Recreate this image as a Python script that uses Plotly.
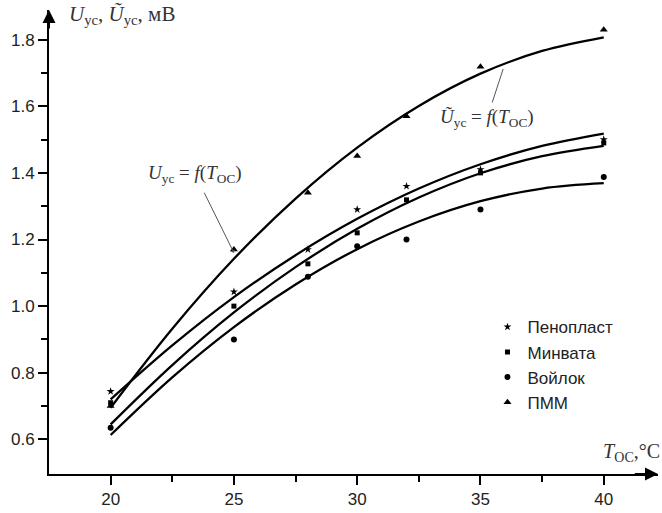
import plotly.graph_objects as go

# ---- data ----
T = [20, 25, 28, 30, 32, 35, 40]
penoplast = [0.744, 1.043, 1.17, 1.29, 1.36, 1.41, 1.50]
minvata = [0.71, 1.00, 1.127, 1.22, 1.319, 1.40, 1.49]
voilok = [0.635, 0.90, 1.088, 1.18, 1.20, 1.29, 1.388]
pmm = [0.70, 1.17, 1.34, 1.451, 1.57, 1.719, 1.83]

T_fit = [20, 22.5, 25, 27.5, 30, 32.5, 35, 37.5, 40]
fit_pmm = [0.695, 0.932, 1.142, 1.323, 1.476, 1.601, 1.698, 1.766, 1.807]
fit_penoplast = [0.720, 0.882, 1.027, 1.153, 1.262, 1.353, 1.426, 1.481, 1.518]
fit_minvata = [0.645, 0.823, 0.981, 1.117, 1.232, 1.326, 1.399, 1.450, 1.481]
fit_voilok = [0.613, 0.786, 0.937, 1.065, 1.171, 1.254, 1.315, 1.353, 1.369]

x_major = [20, 25, 30, 35, 40]
x_minor = [22.5, 27.5, 32.5, 37.5]
y_major = [0.6, 0.8, 1.0, 1.2, 1.4, 1.6, 1.8]
y_minor = [0.7, 0.9, 1.1, 1.3, 1.5, 1.7]

X_RANGE = [17.5, 42.2]
Y_RANGE = [0.496, 1.889]

fig = go.Figure()

for ys in [fit_pmm, fit_penoplast, fit_minvata, fit_voilok]:
    fig.add_trace(go.Scatter(x=T_fit, y=ys, mode="lines", showlegend=False,
                             line=dict(color="black", width=2.3, shape="spline", smoothing=1.0),
                             hoverinfo="skip"))

series = [("Пенопласт", penoplast, "star", 6),
          ("Минвата", minvata, "square", 5),
          ("Войлок", voilok, "circle", 6),
          ("ПММ", pmm, "triangle-up", 7)]
for name, ys, sym, sz in series:
    fig.add_trace(go.Scatter(x=T, y=ys, mode="markers", name=name,
                             marker=dict(symbol=sym, size=sz, color="black",
                                         line=dict(width=0))))

serif = "Liberation Serif"
ann_font = dict(family=serif, size=19, color="#333")

annotations = [
    # y axis arrow head
    dict(x=X_RANGE[0], y=Y_RANGE[1], ax=X_RANGE[0], ay=Y_RANGE[1] - 0.06,
         xref="x", yref="y", axref="x", ayref="y", text="", showarrow=True,
         arrowhead=2, arrowsize=1.3, arrowwidth=2, arrowcolor="black"),
    # x axis arrow head
    dict(x=X_RANGE[1], y=Y_RANGE[0], ax=X_RANGE[1] - 1.0, ay=Y_RANGE[0],
         xref="x", yref="y", axref="x", ayref="y", text="", showarrow=True,
         arrowhead=2, arrowsize=1.3, arrowwidth=2, arrowcolor="black"),
    # axis titles
    dict(x=0.030, y=0.989, xref="paper", yref="paper", xanchor="left", yanchor="middle",
         text="<i>U</i><sub>ус</sub>, <i>Ũ</i><sub>ус</sub>, мВ", showarrow=False,
         font=dict(family=serif, size=21, color="#333")),
    dict(x=1.0066, y=0.047, xref="paper", yref="paper", xanchor="right", yanchor="middle",
         text="<i>T</i><sub>ОС</sub>,°C", showarrow=False,
         font=dict(family=serif, size=20, color="#333")),
    # curve labels
    dict(x=25, y=1.16, xref="x", yref="y", ax=-39, ay=-79,
         text="<i>U</i><sub>ус</sub> = <i>f</i>(<i>T</i><sub>ОС</sub>)", showarrow=True,
         arrowhead=1, arrowsize=0.8, arrowwidth=1, arrowcolor="#555", startstandoff=6,
         font=ann_font),
    dict(x=35.92, y=1.712, xref="x", yref="y", ax=-16, ay=49,
         text="<i>Ũ</i><sub>ус</sub> = <i>f</i>(<i>T</i><sub>ОС</sub>)", showarrow=True,
         arrowhead=0, arrowwidth=1, arrowcolor="#555", startstandoff=2,
         font=ann_font),
]

tick_font = dict(family="Liberation Sans", size=17, color="#222")

fig.update_layout(
    width=662, height=513,
    margin=dict(l=49, r=4, t=10, b=36),
    paper_bgcolor="white", plot_bgcolor="white",
    showlegend=True,
    legend=dict(x=0.72, y=0.355, xanchor="left", yanchor="top",
                font=dict(family="Liberation Sans", size=17, color="#222"),
                bgcolor="rgba(0,0,0,0)", tracegroupgap=0),
    annotations=annotations,
    xaxis=dict(range=X_RANGE, showgrid=False, zeroline=False,
               showline=True, linecolor="black", linewidth=2,
               tickmode="array", tickvals=x_major, ticks="outside", ticklen=9,
               tickwidth=1.5, tickcolor="black", tickfont=tick_font,
               minor=dict(tickmode="array", tickvals=x_minor, ticks="outside",
                          ticklen=6, tickwidth=1.5, tickcolor="black", showgrid=False)),
    yaxis=dict(range=Y_RANGE, showgrid=False, zeroline=False,
               showline=True, linecolor="black", linewidth=2,
               tickmode="array", tickvals=y_major, ticktext=[f"{v:.1f}" for v in y_major],
               ticks="outside", ticklen=9,
               tickwidth=1.5, tickcolor="black", tickfont=tick_font,
               minor=dict(tickmode="array", tickvals=y_minor, ticks="outside",
                          ticklen=6, tickwidth=1.5, tickcolor="black", showgrid=False)),
)

fig.write_html("out.html")
